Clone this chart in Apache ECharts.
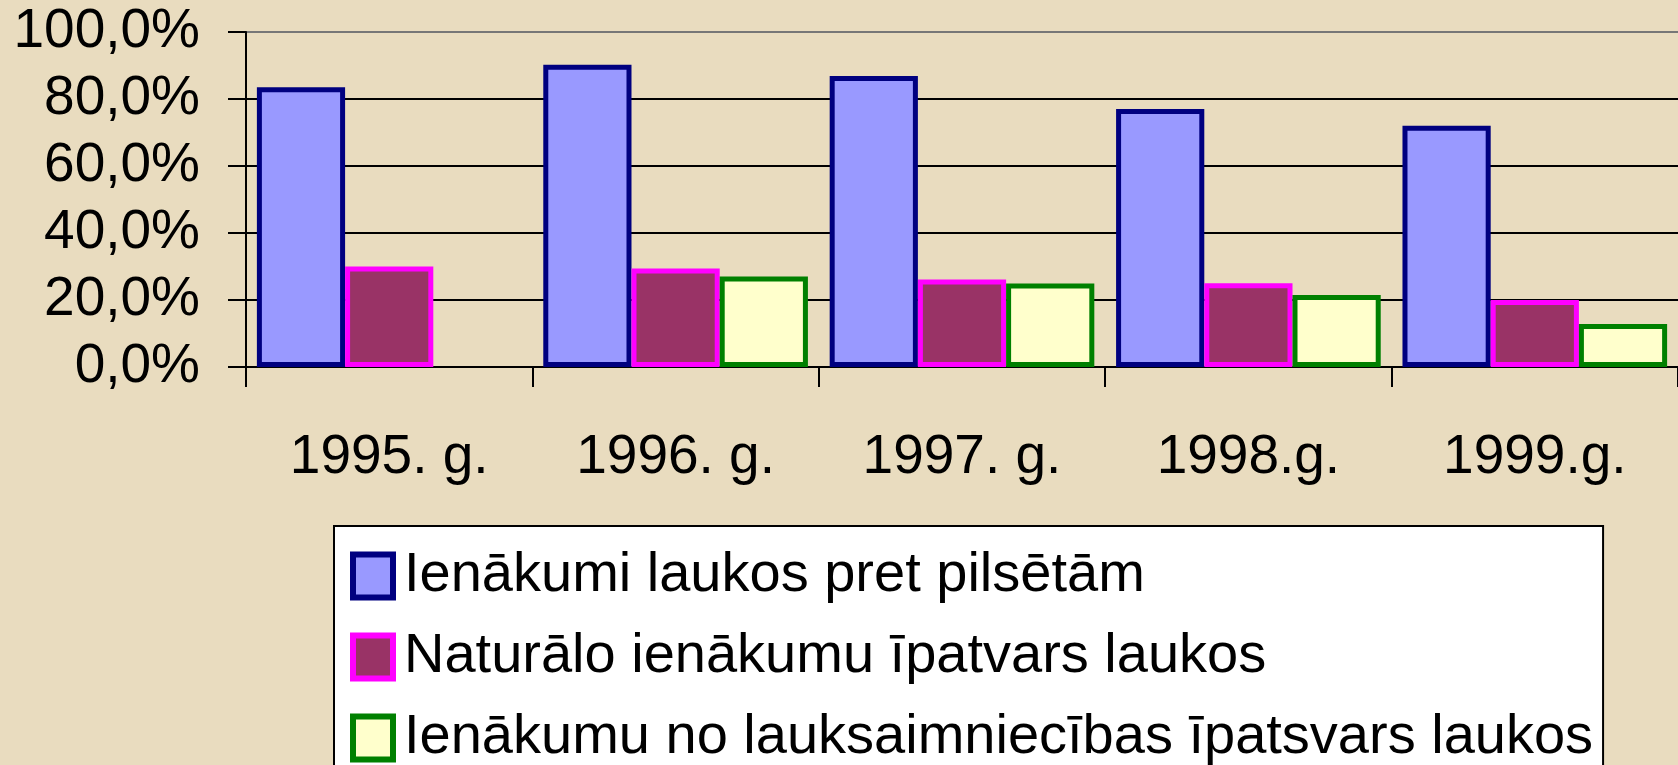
<!DOCTYPE html>
<html>
<head>
<meta charset="utf-8">
<title>Ienākumi laukos</title>
<script src="https://cdn.jsdelivr.net/npm/echarts@6.0.0/dist/echarts.min.js"></script>
<style>
	html, body {
		margin: 0;
		padding: 0;
		background: #E9DCBF;
	}
	#chartId {
		width: 1678px;
		height: 765px;
	}
</style>
</head>
<body>
<div id="chartId"></div>
<script>
	// gadi (kategorijas)
	var categories = ["1995. g.", "1996. g.", "1997. g.", "1998.g.", "1999.g."];
	// sērijas, %
	var seriesNames = ["Ienākumi laukos pret pilsētām", "Naturālo ienākumu īpatvars laukos", "Ienākumu no lauksaimniecības īpatsvars laukos"];
	var incomeRatio = [83.5, 90.2, 86.9, 77.0, 72.0];
	var naturalShare = [30.0, 29.4, 26.1, 25.0, 20.0];
	var agriShare = [null, 27.0, 24.9, 21.5, 12.8];
	var yTicks = [0, 20, 40, 60, 80, 100];

	var fontName = "Arial, 'Liberation Sans', sans-serif";

	function percentLabel(value) {
		return value.toFixed(1).replace(".", ",") + "%";
	}

	function barSeries(name, data, fill, border) {
		return {
			name: name,
			type: "bar",
			barGap: "0%",
			barCategoryGap: "7.6%",
			itemStyle: {
				color: fill,
				borderColor: border,
				borderWidth: 5
			},
			emphasis: { disabled: true },
			data: data
		};
	}

	var myChart = echarts.init(document.getElementById("chartId"));
	var option = {
		backgroundColor: "#E9DCBF",
		animation: false,
		grid: {
			left: 246,
			right: -13,
			top: 32,
			bottom: 398,
			containLabel: false
		},
		legend: {
			orient: "vertical",
			left: 334,
			top: 526,
			height: 320,
			padding: [22, 10, 60, 16],
			itemGap: 25,
			itemWidth: 40,
			itemHeight: 43,
			icon: "rect",
			backgroundColor: "#FFFFFF",
			borderColor: "#000000",
			borderWidth: 2,
			itemStyle: { borderWidth: 6 },
			textStyle: {
				fontFamily: fontName,
				fontSize: 56,
				color: "#000",
				padding: [0, 0, 0, 6]
			},
			data: seriesNames
		},
		xAxis: {
			type: "category",
			data: categories,
			axisLine: {
				show: true,
				lineStyle: { color: "#000", width: 2 }
			},
			axisTick: {
				show: true,
				length: 20,
				lineStyle: { color: "#000", width: 2 }
			},
			axisLabel: {
				fontFamily: fontName,
				fontSize: 55,
				color: "#000",
				margin: 63
			}
		},
		yAxis: {
			type: "value",
			min: yTicks[0],
			max: yTicks[yTicks.length - 1],
			interval: 20,
			axisLine: {
				show: true,
				lineStyle: { color: "#000", width: 2 }
			},
			axisTick: {
				show: true,
				length: 18,
				lineStyle: { color: "#000", width: 2 }
			},
			axisLabel: {
				fontFamily: fontName,
				fontSize: 55,
				color: "#000",
				margin: 46,
				formatter: percentLabel
			},
			splitLine: {
				show: true,
				lineStyle: {
					color: ["#000", "#000", "#000", "#000", "#000", "#777"],
					width: 2
				}
			}
		},
		series: [
			barSeries(seriesNames[0], incomeRatio, "#9999FF", "#000080"),
			barSeries(seriesNames[1], naturalShare, "#993366", "#FF00FF"),
			barSeries(seriesNames[2], agriShare, "#FFFFCC", "#008000")
		]
	};
	myChart.setOption(option);
</script>
</body>
</html>
